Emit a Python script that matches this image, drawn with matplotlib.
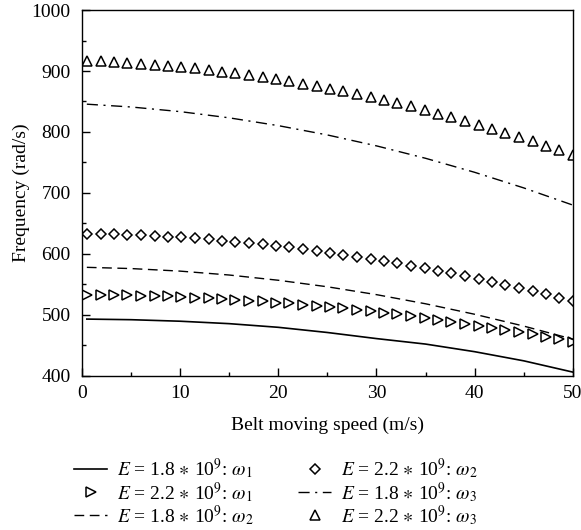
import matplotlib
matplotlib.use("Agg")
import matplotlib.pyplot as plt
from matplotlib.ticker import MultipleLocator

plt.rcParams['font.family'] = ['Liberation Serif', 'DejaVu Serif']
plt.rcParams['mathtext.fontset'] = 'stix'

# belt speed (m/s) for the marker series
speed_pts = [0.5, 1.9, 3.3, 4.6, 6.0, 7.4, 8.8, 10.1, 11.5, 12.9, 14.3, 15.6,
             17.0, 18.4, 19.8, 21.1, 22.5, 23.9, 25.3, 26.6, 28.0, 29.4, 30.8,
             32.1, 33.5, 34.9, 36.3, 37.6, 39.0, 40.4, 41.8, 43.1, 44.5, 45.9,
             47.3, 48.6, 50.0]
# belt speed (m/s) for the line series
speed_line = [0.5, 5, 10, 15, 20, 25, 30, 35, 40, 45, 50]

# E = 1.8e9 (lines)
w1_18 = [493, 492, 489.5, 485.5, 479.5, 471, 461, 452, 439.5, 424.5, 406]
w2_18 = [577.9, 575.9, 571.7, 565.3, 556.7, 546, 533.1, 518.1, 500.9, 481.5, 460]
w3_18 = [845.6, 841, 833.4, 823.2, 810.4, 795.1, 777.2, 756.8, 733.8, 708.2, 680]

# E = 2.2e9 (markers)
w1_22 = [533.0, 532.8, 532.5, 532.1, 531.6, 530.9, 530.2, 529.4, 528.4, 527.3,
         526.1, 524.9, 523.4, 521.9, 520.2, 518.6, 516.7, 514.7, 512.5, 510.5,
         508.1, 505.6, 503.1, 500.6, 497.8, 494.9, 491.8, 488.9, 485.6, 482.3,
         478.8, 475.4, 471.7, 467.9, 463.9, 460.2, 456.0]
w2_22 = [633.4, 632.9, 632.2, 631.5, 630.5, 629.4, 628.2, 626.9, 625.3, 623.6,
         621.8, 619.9, 617.8, 615.4, 613.0, 610.6, 607.8, 604.9, 601.8, 598.8,
         595.5, 592.0, 588.3, 584.8, 580.8, 576.7, 572.4, 568.3, 563.7, 559.0,
         554.1, 549.5, 544.3, 539.0, 533.5, 528.3, 522.5]
w3_22 = [916.7, 915.9, 914.8, 913.6, 912.1, 910.5, 908.6, 906.6, 904.4, 901.9,
         899.2, 896.5, 893.5, 890.2, 886.7, 883.3, 879.4, 875.4, 871.1, 866.9,
         862.2, 857.4, 852.3, 847.4, 841.9, 836.2, 830.3, 824.7, 818.4, 811.9,
         805.2, 798.9, 791.8, 784.5, 777.0, 769.9, 762.0]

labels = [r'$E$ = 1.8 $\ast$ 10$^9$: $\omega_1$',
          r'$E$ = 2.2 $\ast$ 10$^9$: $\omega_1$',
          r'$E$ = 1.8 $\ast$ 10$^9$: $\omega_2$',
          r'$E$ = 2.2 $\ast$ 10$^9$: $\omega_2$',
          r'$E$ = 1.8 $\ast$ 10$^9$: $\omega_3$',
          r'$E$ = 2.2 $\ast$ 10$^9$: $\omega_3$']

fig = plt.figure(figsize=(5.81, 5.30), dpi=100)
ax = fig.add_axes([0.141, 0.291, 0.845, 0.690])

mk = dict(linestyle='none', markerfacecolor='none', markeredgecolor='black',
          markeredgewidth=1.1, markersize=7)

ax.plot(speed_line, w1_18, color='black', lw=1.2, label=labels[0])
ax.plot(speed_pts, w1_22, marker='>', label=labels[1], **mk)
ax.plot(speed_line, w2_18, color='black', lw=1.0, dashes=(7, 4), label=labels[2])
ax.plot(speed_pts, w2_22, marker='D', label=labels[3],
        **{**mk, 'markersize': 5.5})
ax.plot(speed_line, w3_18, color='black', lw=1.0, dashes=(8, 4, 1.5, 4),
        label=labels[4])
ax.plot(speed_pts, w3_22, marker='^', label=labels[5], **mk)

ax.set_xlim(0, 50)
ax.set_ylim(400, 1000)
ax.xaxis.set_major_locator(MultipleLocator(10))
ax.xaxis.set_minor_locator(MultipleLocator(5))
ax.yaxis.set_major_locator(MultipleLocator(100))
ax.yaxis.set_minor_locator(MultipleLocator(50))
ax.tick_params(which='both', direction='in', top=False, right=False,
               labelsize=14, width=1.0)
ax.tick_params(which='major', length=6)
ax.tick_params(which='minor', length=3)
ax.tick_params(axis='y', pad=8)
ax.tick_params(axis='x', pad=7)
for s in ax.spines.values():
    s.set_linewidth(1.0)

ax.set_xlabel('Belt moving speed (m/s)', fontsize=14, labelpad=10)
ax.set_ylabel('Frequency (rad/s)', fontsize=14, labelpad=1)

fig.legend(loc='upper center', bbox_to_anchor=(0.475, 0.157), ncol=2,
           frameon=False, fontsize=14, handlelength=1.7, columnspacing=2.3,
           labelspacing=-0.08, borderpad=0, handletextpad=0.5)

fig.savefig('out.png', dpi=100)
